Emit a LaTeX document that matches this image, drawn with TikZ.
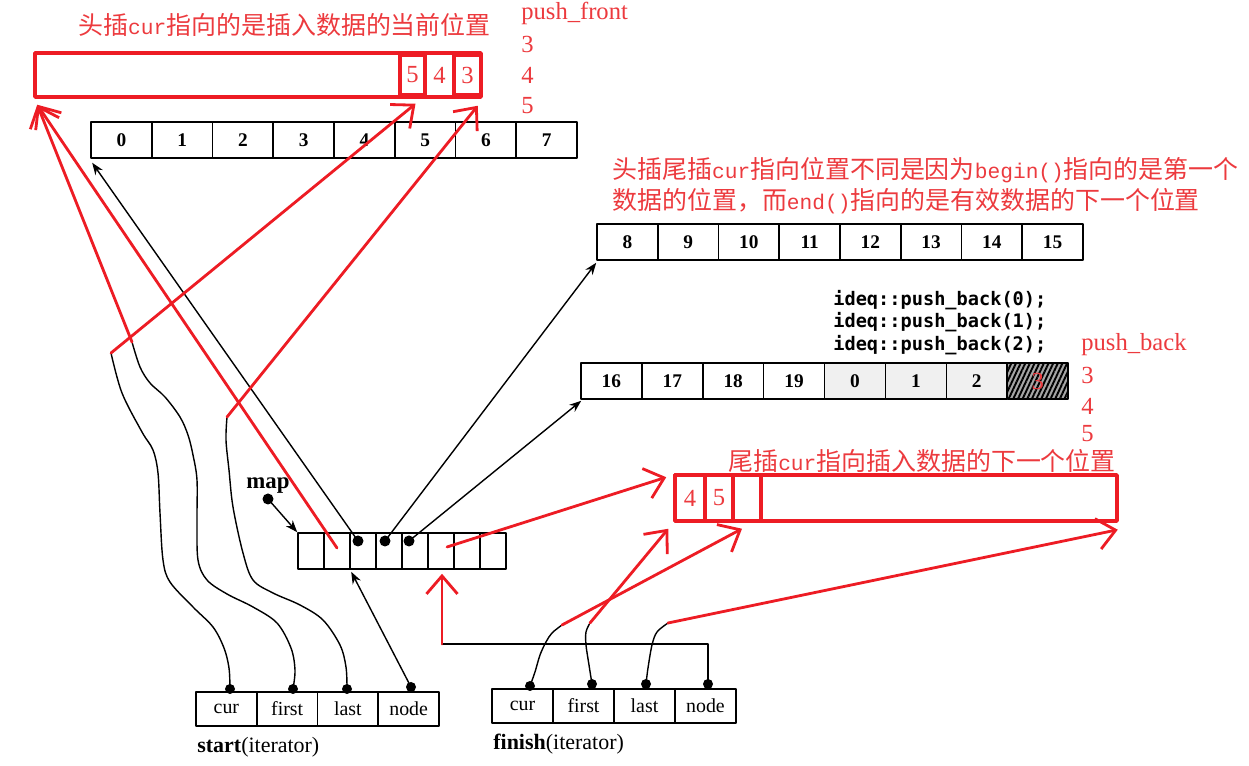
\documentclass[tikz,border=0pt]{standalone}
\usepackage{fontspec}
\setmainfont{Liberation Serif}
\newfontfamily\cjk{Noto Sans CJK SC}
\newfontfamily\halfwidth[Scale=0.85]{Liberation Mono}
\newfontfamily\codefont{DejaVu Sans Mono}
\usetikzlibrary{arrows.meta,patterns.meta,calc}
\definecolor{inkred}{RGB}{237,28,36}
\definecolor{notered}{RGB}{236,58,62}
\newcommand{\pxu}{0.02cm}
\tikzset{
  cell/.style={draw,line width=0.9pt,inner sep=0pt,minimum height=36*\pxu,
    minimum width=60.8*\pxu,font=\fontsize{11}{13}\selectfont\bfseries},
  mapcell/.style={cell,minimum width=26*\pxu},
  itcell/.style={cell,minimum height=34*\pxu,
    font=\fontsize{11.3}{13}\selectfont},
  redbox/.style={draw=inkred,line width=2pt,inner sep=0pt},
  rednote/.style={text=notered,font=\cjk\fontsize{14.2}{17}\selectfont,
    inner sep=0pt,anchor=west},
  rednum/.style={text=notered,font=\fontsize{14}{16}\selectfont,inner sep=0pt},
  code/.style={font=\codefont\bfseries\fontsize{10.6}{12}\selectfont,
    inner sep=0pt,anchor=west},
  wire/.style={line width=0.8pt},
  ptr/.style={line width=0.8pt,-{Stealth[length=0.24cm,width=0.18cm]}},
  redptr/.style={draw=inkred,line width=1.6pt,
    -{Straight Barb[length=0.36cm,width=0.62cm]}},
}
\begin{document}
\begin{tikzpicture}[x=0.02cm,y=-0.02cm,line cap=round,line join=round]
  \useasboundingbox (0,0) rectangle (1249,766);

  % red notes
  \node[rednote] (note1) at (78,25)
    {头插{\halfwidth cur}指向的是插入数据的当前位置};
  \node[rednote] (note2) at (612,170)
    {头插尾插{\halfwidth cur}指向位置不同是因为{\halfwidth begin()}指向的是第一个};
  \node[rednote] (note3) at (612,201)
    {数据的位置，而{\halfwidth end()}指向的是有效数据的下一个位置};
  \node[rednote] (note4) at (728,461)
    {尾插{\halfwidth cur}指向插入数据的下一个位置};
  \node[rednum,anchor=west] (pf) at (521,13) {push\_front};
  \node[rednum,anchor=west] (pf3) at (521,44) {3};
  \node[rednum,anchor=west] (pf4) at (521,75) {4};
  \node[rednum,anchor=west] (pf5) at (521,106) {5};
  \node[rednum,anchor=west] (pb) at (1081,345) {push\_back};
  \node[rednum,anchor=west] (pb3) at (1081,375) {3};
  \node[rednum,anchor=west] (pb4) at (1081,406) {4};
  \node[rednum,anchor=west] (pb5) at (1081,434) {5};

  % buffers
  \foreach \lab [count=\i from 0] in {0,...,7}
    \node[cell] (a\i) at ({121.4+60.75*\i},140) {\lab};
  \foreach \lab [count=\i from 0] in {8,...,15}
    \node[cell] (b\i) at ({627.4+60.75*\i},242) {\lab};
  \foreach \lab/\shade [count=\i from 0] in
      {16/white,17/white,18/white,19/white,0/black!6,1/black!6,2/black!6}
    \node[cell,fill=\shade] (c\i) at ({611.4+60.9*\i},381) {\lab};
  \node[cell,preaction={fill=black!35},
        pattern={Lines[angle=65,distance=2.4pt,line width=1.1pt]}]
    (c7) at (1037.7,381) {};
  \node[rednum] (c7num) at (c7) {3};

  % code lines
  \node[code] (code0) at (833,300) {ideq::push\_back(0);};
  \node[code] (code1) at (833,322) {ideq::push\_back(1);};
  \node[code] (code2) at (833,345) {ideq::push\_back(2);};

  % map
  \foreach \i in {0,...,7}
    \node[mapcell] (m\i) at ({311+26*\i},551) {};
  \node[font=\bfseries\fontsize{13}{15}\selectfont,inner sep=0pt]
    (maplabel) at (268,486) {map};
  \coordinate (mapdot) at (268,499);
  \coordinate (p2) at (358,541);
  \coordinate (p3) at (385,541);
  \coordinate (p4) at (409,541);
  \foreach \d in {mapdot,p2,p3,p4}
    \fill (\d) circle (0.11cm);
  \draw[ptr] (mapdot) -- (m0.north west);
  \draw[ptr] (p2) -- ($(a0.south west)+(2,4)$);
  \draw[ptr] (p3) -- ($(b0.south west)+(0,2)$);
  \draw[ptr] (p4) -- ($(c0.south west)+(1,1)$);

  % iterators
  \foreach \lab [count=\i from 0] in {cur,first,last,node}
    \node[itcell] (s\i) at ({226.4+60.75*\i},709) {\lab};
  \foreach \lab [count=\i from 0] in {cur,first,last,node}
    \node[itcell] (fin\i) at ({522.5+61*\i},706) {\lab};
  \node[anchor=west,inner sep=0pt,font=\fontsize{12.5}{14}\selectfont]
    (startlabel) at (197,747) {\textbf{start}(iterator)};
  \node[anchor=west,inner sep=0pt,font=\fontsize{12.5}{14}\selectfont]
    (finishlabel) at (493,744) {\textbf{finish}(iterator)};

  \coordinate (scurdot) at (230,689);
  \coordinate (sfirstdot) at (293,689);
  \coordinate (slastdot) at (347,689);
  \coordinate (snodedot) at (411,687);
  \coordinate (fcurdot) at (530,686);
  \coordinate (ffirstdot) at (592,684);
  \coordinate (flastdot) at (646,684);
  \coordinate (fnodedot) at (708,684);
  \foreach \d in {scurdot,sfirstdot,slastdot,snodedot,
                  fcurdot,ffirstdot,flastdot,fnodedot}
    \fill (\d) circle (0.1cm);

  \coordinate (scurtop) at (111,353);
  \coordinate (sfirsttop) at (132,342);
  \coordinate (slasttop) at (227,417);
  \coordinate (fcurtop) at (562,625);
  \coordinate (ffirsttop) at (590,623);
  \coordinate (flasttop) at (668,623);
  \coordinate (fbend1) at (708,644);
  \coordinate (fbend2) at (442,644);

  % hand-drawn wires of start
  \draw[wire] plot[smooth,tension=0.55] coordinates {(scurtop) (122,393)
    (142,432) (153,450) (158,473) (160,513) (163,560) (170,582) (193,607)
    (213,627) (224,648) (229,668) (scurdot)};
  \draw[wire] plot[smooth,tension=0.55] coordinates {(sfirsttop) (140,367)
    (150,383) (165,397) (180,417) (188,435) (193,455) (197,480) (197,520)
    (198,560) (207,580) (227,594) (253,607) (277,623) (291,648) (295,670)
    (sfirstdot)};
  \draw[wire] plot[smooth,tension=0.55] coordinates {(slasttop) (226,440)
    (229,470) (233,507) (243,553) (253,580) (273,593) (300,605) (323,620)
    (340,645) (346,667) (slastdot)};
  \draw[ptr] (snodedot) -- ($(m2.south west)+(2,2)$);

  % wires of finish
  \draw[wire] plot[smooth,tension=0.55] coordinates {(fcurdot) (535,672)
    (540,655) (546,642) (552,633) (fcurtop)};
  \draw[wire] plot[smooth,tension=0.55] coordinates {(ffirstdot) (589,665)
    (586,645) (586,632) (ffirsttop)};
  \draw[wire] plot[smooth,tension=0.55] coordinates {(flastdot) (648,668)
    (652,645) (657,632) (flasttop)};
  \draw[wire] (fnodedot) -- (fbend1) -- (fbend2);

  % red buffers
  \node[redbox,minimum width=446*\pxu,minimum height=44*\pxu]
    (front) at (258,75) {};
  \node[redbox,rednum,minimum width=25*\pxu,minimum height=40*\pxu]
    (fr5) at (412.5,75) {5};
  \node[rednum] (fr4) at (439.5,75) {4};
  \node[redbox,rednum,minimum width=27*\pxu,minimum height=40*\pxu]
    (fr3) at (467.5,75) {3};
  \node[redbox,minimum width=442*\pxu,minimum height=46*\pxu]
    (back) at (896,498) {};
  \node[redbox,rednum,minimum width=30*\pxu,minimum height=46*\pxu]
    (bk4) at (690,498) {4};
  \node[redbox,rednum,minimum width=28*\pxu,minimum height=46*\pxu]
    (bk5) at (719,498) {5};
  \node[redbox,minimum width=28*\pxu,minimum height=46*\pxu]
    (bk6) at (747,498) {};

  % red pointers
  \draw[redptr] (scurtop) -- ($(fr5.south)+(3,7)$);
  \draw[redptr] (slasttop) -- ($(fr3.south east)+(-5,9)$);
  \draw[redptr] (sfirsttop) -- ($(front.south west)+(4,6)$);
  \draw[redptr] ($(m1.center)+(0,-3)$) -- ($(front.south west)+(4,6)$);
  \draw[redptr] ($(m5.center)+(6,-4)$) -- ($(back.north west)+(-7,4)$);
  \draw[redptr] (fcurtop) -- ($(bk6.south)+(-5,6)$);
  \draw[redptr] (ffirsttop) -- ($(back.south west)+(-5,6)$);
  \draw[redptr] (flasttop) -- ($(back.south east)+(-1,7)$);
  \draw[redptr] (fbend2) -- ($(m5.south)+(1,4)$);
\end{tikzpicture}
\end{document}
